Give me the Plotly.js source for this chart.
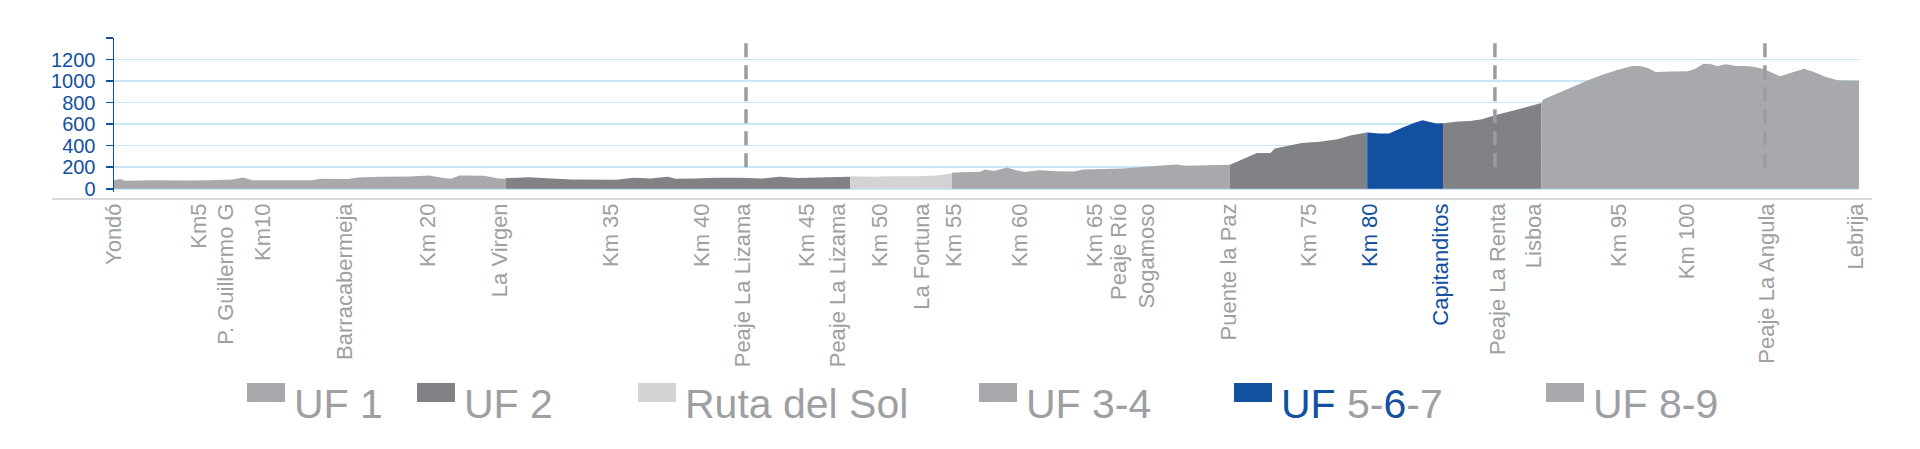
<!DOCTYPE html>
<html>
<head>
<meta charset="utf-8">
<script src="https://cdn.plot.ly/plotly-3.0.1.min.js"></script>
<style>
  body { margin: 0; background: #fff; }
  #chart { width: 1920px; height: 449px; }
</style>
</head>
<body>
<div id="chart"></div>
<script>
// elevation profile, one pair of arrays per section of the road
var uf1Km = [0, 0.41, 0.69, 2.5, 4.63, 6, 7.45, 8.15, 8.71, 12.5, 13.06, 14.77, 15.33, 16.74, 18.7, 19.83, 20.67, 21.23, 21.8, 23.34, 24.2, 24.7];
var uf1Elev = [80, 90, 74, 78, 77, 80, 87, 105, 80, 80, 93, 90, 105, 111, 114, 124, 102, 93, 124, 120, 96, 93];

var uf2Km = [24.7, 25.45, 26.16, 27, 28.82, 31.65, 32.78, 33.79, 34.92, 35.4, 36.6, 38.01, 39.42, 40.82, 41.95, 43.07, 45.04, 46.4];
var uf2Elev = [100, 102, 108, 100, 87, 83, 102, 96, 111, 93, 96, 102, 102, 96, 111, 100, 108, 111];

var rutaKm = [46.4, 47.86, 49, 50.67, 51.8, 52.81];
var rutaElev = [117, 112, 117, 117, 124, 142];

var uf34Km = [52.81, 53.0, 54.62, 54.89, 55.46, 56.3, 56.86, 57.42, 58.27, 59.5, 60.52, 61.08, 63.61, 64.74, 66.99, 67.56, 68.97, 70.35];
var uf34Elev = [148, 150, 158, 179, 164, 198, 173, 155, 173, 163, 161, 179, 188, 201, 226, 213, 219, 222];

var uf5Km = [70.35, 72.05, 72.9, 73.18, 74.87, 76.0, 77.12, 78.0, 79.0];
var uf5Elev = [222, 331, 331, 374, 426, 436, 460, 497, 522];

var uf6Km = [79.0, 79.75, 80.37, 81.24, 81.99, 82.49, 83.36, 83.78];
var uf6Elev = [522, 513, 513, 569, 612, 637, 606, 609];

var uf7Km = [83.78, 84.73, 85.48, 86.23, 87.1, 88.47, 89.97];
var uf7Elev = [609, 624, 630, 646, 686, 735, 797];

var uf89Km = [89.97, 90.09, 91.71, 93.08, 93.7, 94.7, 95.69, 96.19, 96.69, 97.19, 98.19, 99.19, 99.69, 100.19, 100.69, 101.06, 101.56, 101.93, 102.18, 102.93, 103.43, 103.93, 104.42, 105.04, 105.67, 106.54, 107.17, 107.91, 108.66, 110];
var uf89Elev = [797, 828, 930, 1017, 1051, 1100, 1140, 1140, 1122, 1085, 1088, 1091, 1115, 1162, 1156, 1137, 1156, 1149, 1140, 1140, 1131, 1115, 1085, 1044, 1075, 1115, 1085, 1038, 1007, 1004];

// places along the road (tick labels)
var placeKm = [0, 5.36, 7.06, 9.39, 14.56, 19.79, 24.33, 31.33, 37.07, 39.65, 43.68, 45.64, 48.29, 50.93, 52.95, 57.11, 61.84, 64.23, 70.28, 75.33, 79.17, 83.65, 87.24, 89.51, 94.87, 99.15, 104.2, 109.8];
var placeNames = ['Yondó', 'Km5', 'P. Guillermo G', 'Km10', 'Barracabermeja', 'Km 20', 'La Virgen', 'Km 35', 'Km 40', 'Peaje La Lizama', 'Km 45', 'Peaje La Lizama', 'Km 50', 'La Fortuna', 'Km 55', 'Km 60', 'Km 65', 'Peaje Río<br>Sogamoso', 'Puente la Paz', 'Km 75', 'Km 80', 'Capitanditos', 'Peaje La Renta', 'Lisboa', 'Km 95', 'Km 100', 'Peaje La Angula', 'Lebrija'];
var bluePlaces = ['Km 80', 'Capitanditos'];

// toll stations (dashed lines)
var tollKm = [39.84, 87.05, 104.07];

var legendNames = ['UF 1', 'UF 2', 'Ruta del Sol', 'UF 3-4', 'UF 5-6-7', 'UF 8-9'];

var GREY = '#a7a9ac';
var DARK = '#808285';
var LIGHT = '#d1d3d4';
var BLUE = '#1351a0';
var TEXT = '#9d9fa2';

var W = 1920, H = 449;
var M = { l: 114, r: 61, t: 38, b: 257 };
var plotW = W - M.l - M.r;
var plotH = H - M.t - M.b;

function px(x) { return (x - M.l) / plotW; }
function py(y) { return (H - M.b - y) / plotH; }

function area(name, km, elev, color) {
  return {
    x: km,
    y: elev,
    name: name,
    type: 'scatter',
    mode: 'none',
    fill: 'tozeroy',
    fillcolor: color,
    showlegend: false,
    hoverinfo: 'x+y'
  };
}

var data = [
  area('UF 1', uf1Km, uf1Elev, GREY),
  area('UF 2', uf2Km, uf2Elev, DARK),
  area('Ruta del Sol', rutaKm, rutaElev, LIGHT),
  area('UF 3-4', uf34Km, uf34Elev, GREY),
  area('UF 5', uf5Km, uf5Elev, DARK),
  area('UF 6', uf6Km, uf6Elev, BLUE),
  area('UF 7', uf7Km, uf7Elev, DARK),
  area('UF 8-9', uf89Km, uf89Elev, GREY)
];

var tickText = placeNames.map(function (n) {
  if (bluePlaces.indexOf(n) >= 0) {
    return '<span style="color:' + BLUE + '">' + n + '</span>';
  }
  return n;
});

var shapes = tollKm.map(function (k) {
  return {
    type: 'line', xref: 'x', yref: 'y',
    x0: k, x1: k, y0: 200, y1: 1385,
    line: { color: '#9b9c9f', width: 3.5, dash: '14px,8px' }
  };
});

// grey category axis line, wider than the plot area
shapes.push({
  type: 'line', xref: 'paper', yref: 'paper',
  x0: px(52), x1: px(1872), y0: py(199), y1: py(199),
  line: { color: '#d9d9d9', width: 2 }
});

// legend, drawn by hand to get the wide keys
var legendColors = [GREY, DARK, LIGHT, GREY, BLUE, GREY];
var legendKeyX = [247, 417, 638, 979, 1234, 1546];
var annotations = [];
legendNames.forEach(function (n, i) {
  shapes.push({
    type: 'rect', xref: 'paper', yref: 'paper',
    x0: px(legendKeyX[i]), x1: px(legendKeyX[i] + 38),
    y0: py(402), y1: py(383),
    fillcolor: legendColors[i], line: { width: 0 }
  });
  var label = n;
  if (n === 'UF 5-6-7') {
    label = '<span style="color:' + BLUE + '">UF</span> 5-<span style="color:' + BLUE + '">6</span>-7';
  }
  annotations.push({
    xref: 'paper', yref: 'paper',
    x: px(legendKeyX[i] + 45), y: py(404),
    xanchor: 'left', yanchor: 'middle',
    text: label, showarrow: false,
    font: { family: 'Liberation Sans Narrow, Arial Narrow, Arial, sans-serif', size: 41, color: TEXT }
  });
});

var layout = {
  width: W,
  height: H,
  margin: M,
  paper_bgcolor: '#ffffff',
  plot_bgcolor: '#ffffff',
  showlegend: false,
  font: { family: 'Arial, Liberation Sans, sans-serif' },
  xaxis: {
    range: [0, 110],
    showgrid: false,
    zeroline: false,
    showline: false,
    ticks: '',
    tickmode: 'array',
    tickvals: placeKm,
    ticktext: tickText,
    tickangle: -90,
    ticklabelstandoff: 6,
    tickfont: { size: 22, color: TEXT }
  },
  yaxis: {
    range: [-30, 1400],
    tickmode: 'array',
    tickvals: [0, 200, 400, 600, 800, 1000, 1200, 1400],
    ticktext: ['0', '200', '400', '600', '800', '1000', '1200', ''],
    showgrid: true,
    gridcolor: '#c8e6f6',
    gridwidth: 1.5,
    zeroline: false,
    showline: true,
    linecolor: BLUE,
    linewidth: 1.5,
    ticks: 'outside',
    ticklen: 7,
    tickcolor: BLUE,
    tickwidth: 1.5,
    ticklabelstandoff: 6,
    tickfont: { size: 20, color: BLUE }
  },
  shapes: shapes,
  annotations: annotations
};

Plotly.newPlot('chart', data, layout, { displayModeBar: false, staticPlot: true });
</script>
</body>
</html>
